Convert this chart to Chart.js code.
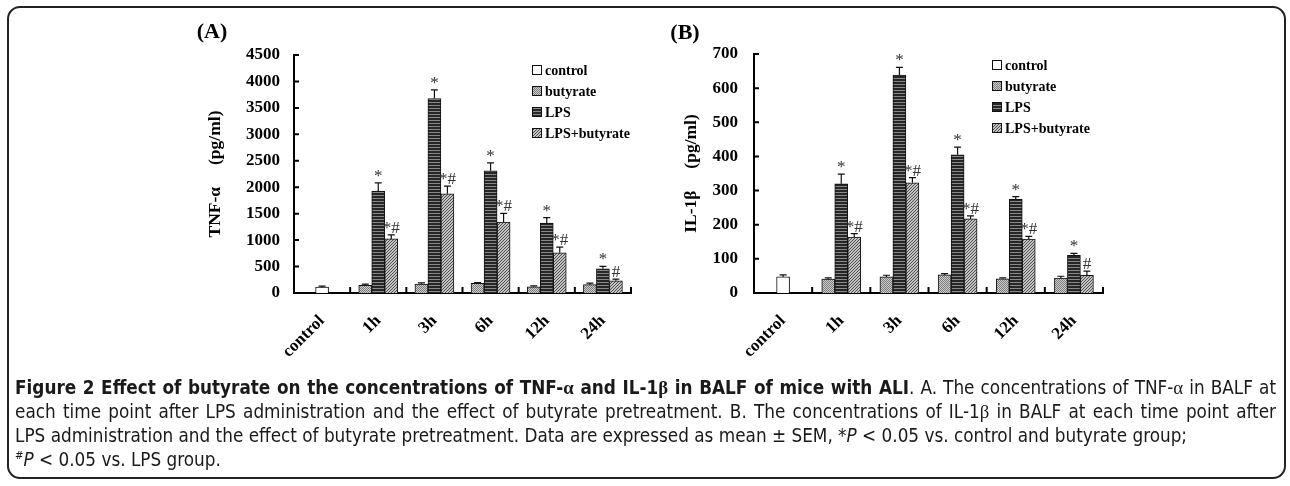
<!DOCTYPE html>
<html>
<head>
<meta charset="utf-8">
<script src="https://cdn.jsdelivr.net/npm/chart.js@4.4.1/dist/chart.umd.min.js"></script>
<style>
  html, body { margin: 0; padding: 0; background: #fff; }
  body { width: 1290px; height: 486px; position: relative; overflow: hidden; }
  #frame { position: absolute; left: 7px; top: 6px; width: 1279px; height: 473px;
           box-sizing: border-box; border: 2px solid #222; border-radius: 13px; }
  canvas { position: absolute; top: 0; }
  #chartA { left: 0; }
  #chartB { left: 640px; }
  #caption { position: absolute; left: 15px; top: 376px; width: 1261px; color: #1a1a1a;
             font-family: "Liberation Sans Narrow", "DejaVu Sans Condensed", sans-serif;
             font-size: 20px; line-height: 24px; }
  #caption div { white-space: nowrap; }
  #caption .just { text-align: justify; text-align-last: justify; white-space: normal; }
  .g { font-family: "Liberation Serif", "DejaVu Serif", serif; }
  sup { font-size: 0.6em; line-height: 0; }
</style>
</head>
<body>
<div id="frame"></div>
<canvas id="chartA" width="645" height="380"></canvas>
<canvas id="chartB" width="650" height="380"></canvas>
<div id="caption">
  <div class="just"><b>Figure 2 Effect of butyrate on the concentrations of TNF-<span class="g">α</span> and IL-1<span class="g">β</span> in BALF of mice with ALI</b>. A. The concentrations of TNF-<span class="g">α</span> in BALF at</div>
  <div class="just">each time point after LPS administration and the effect of butyrate pretreatment. B. The concentrations of IL-1<span class="g">β</span> in BALF at each time point after</div>
  <div>LPS administration and the effect of butyrate pretreatment. Data are expressed as mean ± SEM, *<i>P</i> &lt; 0.05 vs. control and butyrate group;</div>
  <div><sup>#</sup><i>P</i> &lt; 0.05 vs. LPS group.</div>
</div>
<script>
// ---- data ----
const categories = ['control', '1h', '3h', '6h', '12h', '24h'];
const seriesNames = ['control', 'butyrate', 'LPS', 'LPS+butyrate'];

// (A) TNF-alpha, pg/ml  (mean, SEM)
const tnfControl     = [110, null, null, null, null, null];
const tnfControlErr  = [20, null, null, null, null, null];
const tnfButyrate    = [null, 144, 170, 182, 119, 157];
const tnfButyrateErr = [null, 22, 20, 14, 14, 30];
const tnfLps         = [null, 1927, 3678, 2310, 1324, 458];
const tnfLpsErr      = [null, 157, 163, 150, 101, 44];
const tnfLpsBut      = [null, 1023, 1877, 1343, 759, 232];
const tnfLpsButErr   = [null, 75, 144, 163, 107, 32];
const tnfTicks = [0, 500, 1000, 1500, 2000, 2500, 3000, 3500, 4000, 4500];

// (B) IL-1beta, pg/ml
const il1Control     = [47, null, null, null, null, null];
const il1ControlErr  = [6, null, null, null, null, null];
const il1Butyrate    = [null, 40.5, 47, 53, 41.5, 44];
const il1ButyrateErr = [null, 4, 5, 3.5, 3, 5];
const il1Lps         = [null, 320, 638, 405, 274, 110];
const il1LpsErr      = [null, 28, 23, 22, 8, 6];
const il1LpsBut      = [null, 164, 323, 217, 158, 52];
const il1LpsButErr   = [null, 10, 15, 9, 8, 12];
const il1Ticks = [0, 100, 200, 300, 400, 500, 600, 700];

// significance marks
const lpsMarks    = [null, '*', '*', '*', '*', '*'];
const lpsButMarks = [null, '*#', '*#', '*#', '*#', '#'];

const SERIF = '"Liberation Serif", "Times New Roman", serif';

// fill patterns, like the old b/w print
function makePattern(w, h, draw) {
    const c = document.createElement('canvas');
    c.width = w; c.height = h;
    const g = c.getContext('2d');
    draw(g);
    return g.createPattern(c, 'repeat');
}
const fillControl = '#ffffff';
const fillButyrate = makePattern(2, 2, g => {
    g.fillStyle = '#cdcdcd'; g.fillRect(0, 0, 2, 2);
    g.fillStyle = '#7c7c7c'; g.fillRect(0, 0, 1, 1); g.fillRect(1, 1, 1, 1);
});
const fillLps = makePattern(1, 3, g => {
    g.fillStyle = '#262626'; g.fillRect(0, 0, 1, 3);
    g.fillStyle = '#8a8a8a'; g.fillRect(0, 0, 1, 1);
});
const fillLpsBut = makePattern(3, 3, g => {
    g.fillStyle = '#c2c2c2'; g.fillRect(0, 0, 3, 3);
    g.fillStyle = '#505050';
    for (let i = 0; i < 3; i++) g.fillRect(i, 2 - i, 1, 1);
});
const fills = [fillControl, fillButyrate, fillLps, fillLpsBut];

// error bars, significance marks, inward ticks and the legend
const decor = {
    id: 'decor',
    afterDatasetsDraw(chart) {
        const ctx = chart.ctx;
        const yScale = chart.scales.y;
        ctx.save();
        chart.data.datasets.forEach((ds, di) => {
            const meta = chart.getDatasetMeta(di);
            meta.data.forEach((bar, i) => {
                const v = ds.data[i];
                if (v === null || v === undefined) return;
                const top = yScale.getPixelForValue(v + (ds.errors[i] || 0));
                ctx.strokeStyle = '#111';
                ctx.lineWidth = 1.2;
                ctx.beginPath();
                ctx.moveTo(bar.x, bar.y);
                ctx.lineTo(bar.x, top);
                ctx.moveTo(bar.x - 3.5, top);
                ctx.lineTo(bar.x + 3.5, top);
                ctx.stroke();
                const mark = ds.marks && ds.marks[i];
                if (mark) {
                    ctx.fillStyle = '#333';
                    ctx.font = '17px ' + SERIF;
                    ctx.textAlign = 'center';
                    ctx.textBaseline = 'alphabetic';
                    ctx.fillText(mark, bar.x, top - 2);
                }
            });
        });
        ctx.restore();
    },
    afterDraw(chart, args, opts) {
        const ctx = chart.ctx;
        const area = chart.chartArea;
        const xScale = chart.scales.x, yScale = chart.scales.y;
        ctx.save();
        ctx.strokeStyle = '#000';
        ctx.lineWidth = 2;
        ctx.beginPath();
        yScale.ticks.forEach(t => {
            const py = yScale.getPixelForValue(t.value);
            ctx.moveTo(area.left, py);
            ctx.lineTo(area.left + 5, py);
        });
        for (let i = 0; i < chart.data.labels.length; i++) {
            const px = xScale.getPixelForValue(i + 0.5);
            ctx.moveTo(px, area.bottom);
            ctx.lineTo(px, area.bottom - 6);
        }
        ctx.stroke();

        // legend
        ctx.font = 'bold 14px ' + SERIF;
        ctx.textAlign = 'left';
        ctx.textBaseline = 'middle';
        chart.data.datasets.forEach((ds, di) => {
            const cy = opts.legendY + di * opts.legendStep;
            ctx.fillStyle = ds.backgroundColor;
            ctx.fillRect(opts.legendX, cy - 5, 10, 10);
            ctx.lineWidth = 1;
            ctx.strokeStyle = '#111';
            ctx.strokeRect(opts.legendX + 0.5, cy - 4.5, 9, 9);
            ctx.fillStyle = '#000';
            ctx.fillText(ds.label, opts.legendX + 13, cy + 1);
        });

        // panel letter
        ctx.font = 'bold 22px ' + SERIF;
        ctx.textAlign = 'center';
        ctx.fillText(opts.letter, opts.letterX, opts.letterY);
        ctx.restore();
    }
};

function buildPanel(id, p) {
    const datasets = p.values.map((vals, k) => ({
        label: seriesNames[k],
        data: vals,
        errors: p.errors[k],
        marks: k === 2 ? lpsMarks : (k === 3 ? lpsButMarks : null),
        backgroundColor: fills[k],
        borderColor: '#111',
        borderWidth: 1
    }));
    const tickFont = { family: SERIF, weight: 'bold', size: 17 };
    return new Chart(document.getElementById(id), {
        type: 'bar',
        data: { labels: categories, datasets },
        options: {
            responsive: false,
            animation: false,
            layout: { padding: { left: 0, top: p.top, right: p.right, bottom: 0 } },
            datasets: { bar: { barThickness: 13, skipNull: true } },
            plugins: {
                legend: { display: false },
                tooltip: { enabled: false },
                decor: { legendX: p.legendX, legendY: p.legendY, legendStep: p.legendStep,
                         letter: p.letter, letterX: p.letterX, letterY: p.letterY }
            },
            scales: {
                x: {
                    offset: true,
                    grid: { display: false, drawTicks: false },
                    border: { display: true, color: '#000', width: 2 },
                    ticks: { autoSkip: false, maxRotation: 45, minRotation: 45, padding: 18,
                             color: '#000', font: tickFont },
                    afterFit: s => { s.height = 87; }
                },
                y: {
                    min: 0,
                    max: p.ticks[p.ticks.length - 1],
                    grid: { display: false, drawTicks: false },
                    border: { display: true, color: '#000', width: 2 },
                    ticks: { padding: p.tickPad, color: '#000', font: tickFont,
                             callback: v => String(v) },
                    afterBuildTicks: s => { s.ticks = p.ticks.map(v => ({ value: v })); },
                    afterFit: s => { s.width = p.yWidth; },
                    title: { display: true, text: p.title, color: '#000',
                             padding: { top: p.titlePad, bottom: 0 },
                             font: { family: SERIF, weight: 'bold', size: 17.5 } }
                }
            }
        },
        plugins: [decor]
    });
}

function fitCaption() {
    const cap = document.getElementById('caption');
    const lines = cap.querySelectorAll('div');
    let size = 22;
    const widest = () => {
        let w = 0;
        lines.forEach(d => {
            const s = document.createElement('span');
            s.style.whiteSpace = 'nowrap';
            s.innerHTML = d.innerHTML;
            d.appendChild(s);
            w = Math.max(w, s.getBoundingClientRect().width);
            d.removeChild(s);
        });
        return w;
    };
    cap.style.fontSize = size + 'px';
    while (size > 12 && widest() > 1258) {
        size -= 0.25;
        cap.style.fontSize = size + 'px';
    }
}

function draw() {
    fitCaption();
    buildPanel('chartA', {
        values: [tnfControl, tnfButyrate, tnfLps, tnfLpsBut],
        errors: [tnfControlErr, tnfButyrateErr, tnfLpsErr, tnfLpsButErr],
        ticks: tnfTicks, top: 55, right: 14, yWidth: 294, tickPad: 14,
        title: 'TNF-α     (pg/ml)', titlePad: 205,
        legendX: 532, legendY: 70, legendStep: 21,
        letter: '(A)', letterX: 212, letterY: 32
    });
    buildPanel('chartB', {
        values: [il1Control, il1Butyrate, il1Lps, il1LpsBut],
        errors: [il1ControlErr, il1ButyrateErr, il1LpsErr, il1LpsButErr],
        ticks: il1Ticks, top: 54, right: 187, yWidth: 114, tickPad: 16,
        title: 'IL-1β     (pg/ml)', titlePad: 41,
        legendX: 352, legendY: 65, legendStep: 21,
        letter: '(B)', letterX: 45, letterY: 33
    });
}

if (document.fonts && document.fonts.load) {
    Promise.all([
        document.fonts.load('bold 17px "Liberation Serif"'),
        document.fonts.load('17px "Liberation Serif"')
    ]).then(draw, draw);
} else {
    draw();
}
</script>
</body>
</html>
